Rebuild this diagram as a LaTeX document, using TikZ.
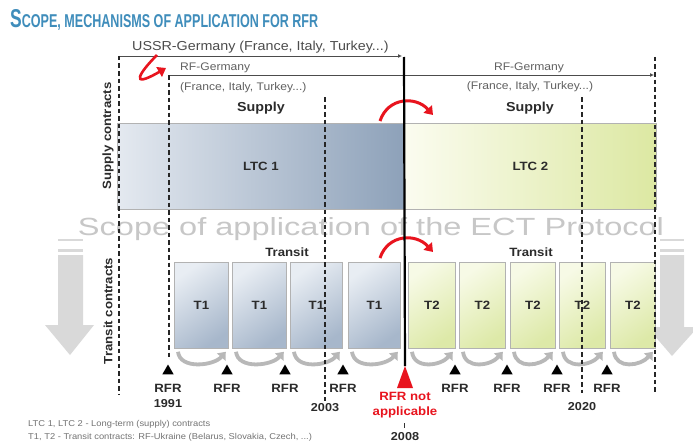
\documentclass[tikz,border=0pt]{standalone}
\usepackage{fontspec}
\setmainfont{Liberation Sans}[FakeStretch=1.1]
\usepackage{graphicx}
\usetikzlibrary{arrows.meta,shapes.geometric,calc}
\definecolor{titleblue}{HTML}{3F8DBB}
\definecolor{ltcA}{HTML}{E4E9F0}
\definecolor{ltcB}{HTML}{8DA1B9}
\definecolor{tA}{HTML}{E8EDF3}
\definecolor{tB}{HTML}{A7B7CB}
\definecolor{gA}{HTML}{FBFCF0}
\definecolor{gB}{HTML}{DCE8A2}
\definecolor{gtA}{HTML}{F7FAE6}
\definecolor{gtB}{HTML}{DDE9A8}
\definecolor{rfrred}{HTML}{E8141E}
\definecolor{txt}{HTML}{2B2B2B}
\begin{document}
\begin{tikzpicture}[x=1pt,y=-1pt,
  lbl/.style={font=\bfseries\fontsize{12}{14}\selectfont, text=txt, inner sep=0pt},
  suplbl/.style={font=\bfseries\fontsize{13}{15}\selectfont, text=txt, inner sep=0pt},
  thintxt/.style={font=\fontsize{11}{13}\selectfont, text=black!62, inner sep=0pt},
  hline/.style={draw=black!70, line width=0.9pt},
  dline/.style={draw=black!85, line width=1.2pt, dash pattern=on 4.5pt off 3pt},
  ltcone/.style={draw=black!30, line width=0.8pt, left color=ltcA, right color=ltcB, inner sep=0pt, minimum height=86pt, anchor=north west, font=\bfseries\fontsize{12}{14}\selectfont, text=txt},
  ltctwo/.style={ltcone, left color=gA, right color=gB},
  tone/.style={draw=black!30, line width=0.8pt, top color=tA, bottom color=tB, shading angle=35, inner sep=0pt, minimum height=86pt, anchor=north west, font=\bfseries\fontsize{12}{14}\selectfont, text=txt},
  ttwo/.style={tone, top color=gtA, bottom color=gtB, shading angle=35},
  garrow/.style={draw=black!28, line width=3.8pt, -{Triangle[width=11pt,length=7pt]}},
  redarc/.style={draw=rfrred, line width=3pt, -{Triangle[width=11pt,length=8pt]}},
  tri/.style={regular polygon, regular polygon sides=3, fill=black, inner sep=0pt, minimum size=13pt},
  bigarrow/.style={fill=black!15}
]
\useasboundingbox (0,0) rectangle (693,444);
\fill[white] (0,0) rectangle (693,444);

% title
\node[anchor=base west, inner sep=0pt, text=titleblue] (title) at (10,28)
  {\resizebox{308pt}{18pt}{\bfseries\fontsize{20}{20}\selectfont S\fontsize{14.4}{14.4}\selectfont COPE, MECHANISMS OF APPLICATION FOR RFR}};

% big grey arrows
\fill[bigarrow] (58,239) rectangle (83,241);
\fill[bigarrow] (58,249) rectangle (83,252);
\fill[bigarrow] (58,255) -- (83,255) -- (83,325) -- (94,325) -- (70,355) -- (45,325) -- (58,325) -- cycle;
\fill[bigarrow] (660,239) rectangle (684,241);
\fill[bigarrow] (660,249) rectangle (684,252);
\fill[bigarrow] (660,255) -- (684,255) -- (684,327) -- (698,327) -- (672,356) -- (647,327) -- (660,327) -- cycle;

% long-term contract boxes
\node[ltcone, minimum width=287pt] (ltc1) at (117,123) {LTC 1};
\node[ltctwo, minimum width=252pt] (ltc2) at (404,123) {LTC 2};

% scope text
\node[anchor=base, inner sep=0pt, text=black!22] (scope) at (371,235)
  {\resizebox{586pt}{18pt}{Scope of application of the ECT Protocol}};

% transit boxes
\foreach \i/\a/\b/\s/\t in {1/174/228/tone/T1, 2/232/286/tone/T1, 3/290/342/tone/T1, 4/348/400/tone/T1, 5/408/455/ttwo/T2, 6/459/505/ttwo/T2, 7/510/555/ttwo/T2, 8/559/605/ttwo/T2, 9/610/655/ttwo/T2}{
  \node[\s, minimum width={(\b-\a)*1pt}] (t\i) at (\a,262) {\t};
  \draw[garrow] ($(t\i.south west)+(4,3)$) .. controls +(2,18) and +(-12,14) .. ($(t\i.south east)+(-3,3)$);
}

% labels
\node[suplbl] (sup1) at (261,108) {Supply};
\node[suplbl] (sup2) at (530,108) {Supply};
\node[lbl] (tr1) at (287,252) {Transit};
\node[lbl] (tr2) at (531,252) {Transit};
\node[lbl, rotate=90] (supc) at (108,136) {Supply contracts};
\node[lbl, rotate=90] (trc) at (108,311) {Transit contracts};

\node[font=\fontsize{13}{15}\selectfont, text=black!70, inner sep=0pt, anchor=west] (ussr) at (132,47) {USSR-Germany (France, Italy, Turkey...)};
\node[thintxt, anchor=west] (rfg1) at (180,68) {RF-Germany};
\node[thintxt, anchor=west] (fit1) at (180,88) {(France, Italy, Turkey...)};
\node[thintxt] (rfg2) at (529,68) {RF-Germany};
\node[thintxt] (fit2) at (530,87) {(France, Italy, Turkey...)};

% horizontal period lines
\coordinate (u0) at (119,56);
\coordinate (u1) at (402,56);
\coordinate (r0) at (169,75);
\coordinate (r1) at (404,75);
\coordinate (r2) at (654,75);
\draw[hline, -{Latex[length=4pt,width=4pt]}] (u0) -- (u1);
\draw[hline] (r0) -- (r1);
\draw[hline] ($(r1)+(-6,0)$) -- ($(r1)+(6,0)$);
\draw[hline, -{Latex[length=4pt,width=4pt]}] (r1) -- (r2);

% dashed verticals
\draw[dline] (u0) -- (119,395);
\draw[dline] (r0) -- (169,360);
\draw[dline] (325,97) -- (325,401);
\draw[dline] (582,97) -- (582,393);
\draw[dline] (655,57) -- (655,393);

% red arcs
\draw[redarc] (380,121) .. controls (388,97) and (416,96) .. (433,115);
\draw[redarc] (380,258) .. controls (388,234) and (416,233) .. (433,252);
\draw[redarc, line width=2.6pt] (157,55) .. controls (140,72) and (128,90) .. (166,68);

% RFR markers
\foreach \i/\x in {1/168, 2/227, 3/285, 4/343, 5/455, 6/507, 7/557, 8/607}{
  \node[tri] (m\i) at (\x,371) {};
  \node[lbl] (l\i) at (\x,388) {RFR};
}
\coordinate (redtip) at (405,366);
\fill[rfrred] (redtip) -- (413,388) -- (397,388) -- cycle;

% thick line
\draw[line width=2.2pt, black] (404,57) -- (redtip);

% years and notes
\node[lbl, font=\bfseries\fontsize{11.5}{13}\selectfont] (y1991) at (168,404) {1991};
\node[lbl, font=\bfseries\fontsize{11.5}{13}\selectfont] (y2003) at (325,408) {2003};
\node[lbl, font=\bfseries\fontsize{11.5}{13}\selectfont] (y2020) at (582,407) {2020};
\node[lbl, text=rfrred, align=center, font=\bfseries\fontsize{12}{15}\selectfont] (rna) at (405,405) {RFR not\\applicable};
\node[lbl, font=\bfseries\fontsize{11.5}{13}\selectfont] (y2008) at (405,437) {2008};
\draw[black!80, line width=1pt] (404,423) -- (404,428);

\node[font=\fontsize{8.5}{10}\selectfont, text=black!55, anchor=west, inner sep=0pt] (fn1) at (28,424) {LTC 1, LTC 2 - Long-term (supply) contracts};
\node[font=\fontsize{8.5}{10}\selectfont, text=black!55, anchor=west, inner sep=0pt] (fn2) at (28,437) {T1, T2 - Transit contracts: RF-Ukraine (Belarus, Slovakia, Czech, ...)};
\end{tikzpicture}
\end{document}
